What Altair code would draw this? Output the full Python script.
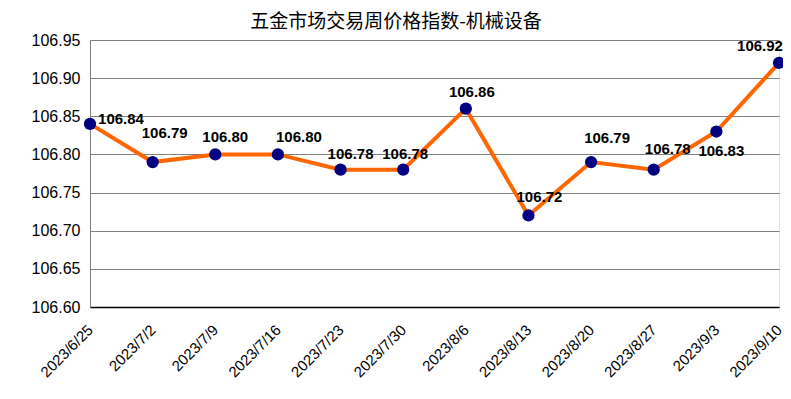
import altair as alt
import pandas as pd

dates = ["2023/6/25", "2023/7/2", "2023/7/9", "2023/7/16", "2023/7/23", "2023/7/30",
         "2023/8/6", "2023/8/13", "2023/8/20", "2023/8/27", "2023/9/3", "2023/9/10"]
values = [106.84, 106.79, 106.80, 106.80, 106.78, 106.78,
          106.86, 106.72, 106.79, 106.78, 106.83, 106.92]
y_ticks = [106.60, 106.65, 106.70, 106.75, 106.80, 106.85, 106.90, 106.95]
title_text = "五金市场交易周价格指数-机械设备"

# label placement offsets (pixels) relative to each point
label_offsets = [(31, -5), (12, -29), (10, -17), (21, -17), (10, -16), (2, -16),
                 (6, -17), (11, -18), (16, -24), (14, -21), (5, 19), (-19, -17)]

df = pd.DataFrame({"date": dates, "value": values})

x_scale = alt.Scale(type="point", padding=0, domain=dates)
y_scale = alt.Scale(domain=[106.60, 106.95], nice=False, zero=False)

x_enc = alt.X("date:N", sort=dates, scale=x_scale,
              axis=alt.Axis(title=None, labelAngle=-45, labelFont="Liberation Sans",
                            labelFontSize=15, labelColor="#000000", ticks=False,
                            domainColor="#000000", domainWidth=1.5, labelPadding=15,
                            labelOffset=-5, grid=False, labelOverlap=False))
y_enc = alt.Y("value:Q", scale=y_scale,
              axis=alt.Axis(title=None, values=y_ticks, tickCount=20, format=".2f",
                            labelFont="Liberation Sans", labelFontSize=16,
                            labelColor="#000000", ticks=False, domainColor="#808080",
                            gridColor="#808080", gridWidth=1, labelPadding=10,
                            labelOverlap=False, labelFlush=False))

x_plain = alt.X("date:N", sort=dates, scale=x_scale)
y_plain = alt.Y("value:Q", scale=y_scale)

base = alt.Chart(df)
line = base.mark_line(color="#FF6600", strokeWidth=4).encode(x=x_enc, y=y_enc)
pts = base.mark_circle(color="#000080", size=150, opacity=1).encode(x=x_plain, y=y_plain)

layers = [line, pts]
for d, (dx, dy) in zip(dates, label_offsets):
    layers.append(
        base.transform_filter(alt.datum.date == d)
        .mark_text(dx=dx, dy=dy, font="Liberation Sans", fontSize=15, fontWeight="bold",
                   color="#000000", align="center", baseline="middle")
        .encode(x=x_plain, y=y_plain, text=alt.Text("value:Q", format=".2f"))
    )

title_layer = alt.Chart(pd.DataFrame({"t": [title_text]})).mark_text(
    font="Noto Sans CJK SC", fontSize=19, fontWeight="normal", color="#000000",
    align="center", baseline="middle"
).encode(text="t:N", x=alt.value(306), y=alt.value(-18))
layers.append(title_layer)

chart = alt.layer(*layers).properties(
    width=689, height=267,
    autosize=alt.AutoSizeParams(type="none"),
    padding={"left": 82, "top": 32, "right": 4, "bottom": 84},
).configure_view(stroke=None).configure(background="#ffffff")

chart.save("out.html", embed_options={"renderer": "svg", "actions": False})
